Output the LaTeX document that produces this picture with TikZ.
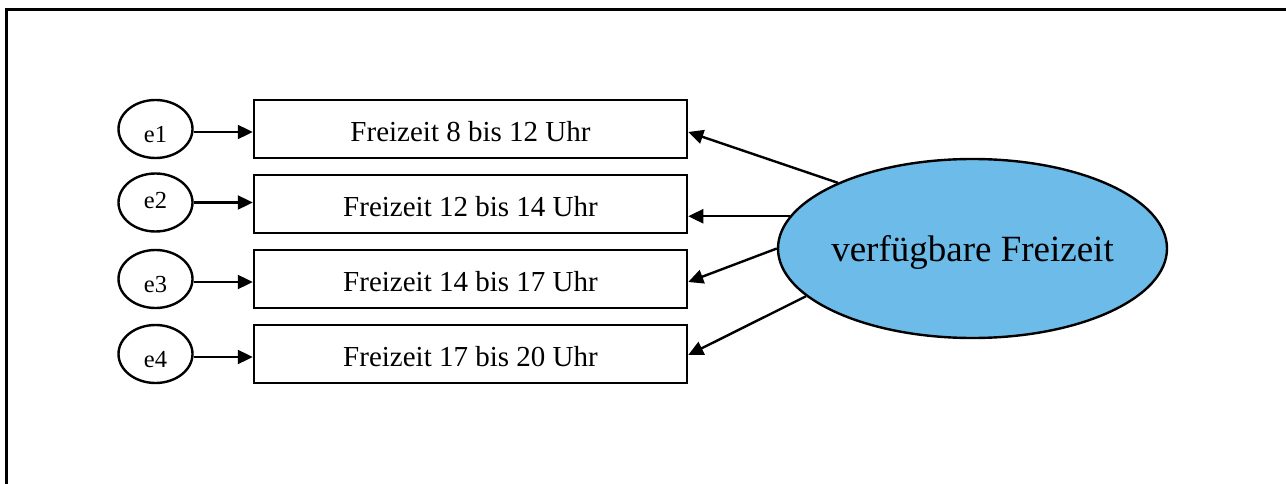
\documentclass[tikz,border=0pt]{standalone}
\usepackage{fontspec}
\setmainfont{Liberation Serif}
\usetikzlibrary{arrows.meta,shapes.geometric}
\definecolor{latentblue}{RGB}{109,187,233}
\begin{document}
\begin{tikzpicture}[x=1pt,y=-1pt,
  obs/.style={draw, line width=2.5pt, minimum width=433pt, minimum height=58pt, inner sep=0pt, text height=25.4pt, text depth=0pt, font=\fontsize{29}{33}\selectfont},
  err/.style={draw, ellipse, line width=2.4pt, minimum width=74pt, minimum height=58pt, inner sep=0pt, text height=27.4pt, text depth=0pt, font=\fontsize{24.5}{28}\selectfont},
  lat/.style={draw, ellipse, fill=latentblue, line width=2.4pt, minimum width=389pt, minimum height=179pt, inner xsep=-9pt, inner ysep=0pt, text height=26pt, text depth=0pt, font=\fontsize{37}{41}\selectfont},
  arr/.style={line width=2.4pt, -{Triangle[length=15pt,width=14pt]}},
  frame/.style={line width=2.8pt}]
\useasboundingbox (0,0) rectangle (1286,484);
\coordinate (ftr) at (1290,9.5);
\coordinate (ftl) at (6.5,9.5);
\coordinate (fbl) at (6.5,490);
\draw[frame] (ftr) -- (ftl) -- (fbl);

\node[obs] (b1) at (470.5,129) {Freizeit 8 bis 12 Uhr};
\node[obs] (b2) at (470.5,204) {Freizeit 12 bis 14 Uhr};
\node[obs] (b3) at (470.5,279) {Freizeit 14 bis 17 Uhr};
\node[obs] (b4) at (470.5,354) {Freizeit 17 bis 20 Uhr};

\node[err] (e1) at (155.5,129) {e1};
\node[err, text height=11pt] (e2) at (155.5,202.5) {e2};
\node[err] (e3) at (155.5,279) {e3};
\node[err] (e4) at (155.5,354) {e4};

\node[lat] (F) at (972.5,248.5) {verfügbare Freizeit};

\draw[arr] ([yshift=-3pt]e1.east) -- ([yshift=-3pt]e1.east -| b1.west);
\draw[arr] (e2.east) -- (e2.east -| b2.west);
\draw[arr] ([yshift=-3pt]e3.east) -- ([yshift=-3pt]e3.east -| b3.west);
\draw[arr] ([yshift=-3pt]e4.east) -- ([yshift=-3pt]e4.east -| b4.west);

\draw[arr] (F.154.9) -- ([yshift=-3pt]b1.east);
\draw[arr] (F.170.5) -- (F.170.5 -| b2.east);
\draw[arr] (F.180.6) -- ([yshift=-3pt]b3.east);
\draw[arr] (F.196.4) -- ([yshift=-1pt]b4.east);
\end{tikzpicture}
\end{document}
